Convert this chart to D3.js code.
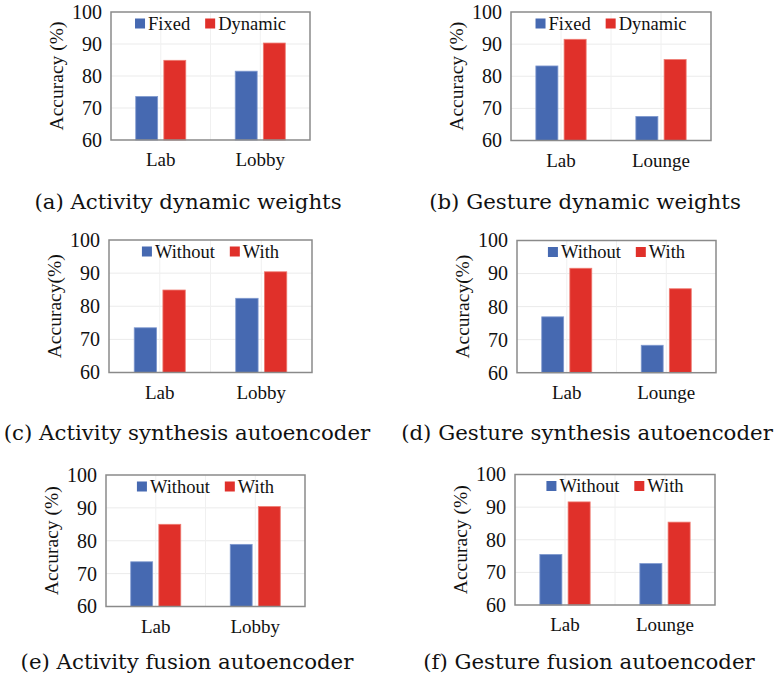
<!DOCTYPE html>
<html lang="en">
<head>
<meta charset="UTF-8">
<script src="https://cdn.jsdelivr.net/npm/d3@7"></script>
<title>Accuracy bars</title>
<style>
  body { margin: 0; background: #fff; }
  .tick-lbl { font-family: "Liberation Serif", "Times New Roman", serif; fill: #111; }
  .cap { font-family: "DejaVu Serif", serif; fill: #111; }
</style>
</head>
<body>
<svg id="fig" width="777" height="680"></svg>
<script>
// ---- data ----
var activityPlaces = ["Lab", "Lobby"];
var gesturePlaces = ["Lab", "Lounge"];
var yTicks = [60, 70, 80, 90, 100];

var weightSeries = ["Fixed", "Dynamic"];
var aeSeries = ["Without", "With"];

var actWeightsFixed = [73.6, 81.5];
var actWeightsDynamic = [84.9, 90.3];
var gesWeightsFixed = [83.2, 67.5];
var gesWeightsDynamic = [91.5, 85.2];

var actSynthWithout = [73.5, 82.4];
var actSynthWith = [84.9, 90.4];
var gesSynthWithout = [76.9, 68.3];
var gesSynthWith = [91.6, 85.4];

var actFusionWithout = [73.6, 78.9];
var actFusionWith = [85.0, 90.4];
var gesFusionWithout = [75.5, 72.7];
var gesFusionWith = [91.6, 85.4];

var captions = [
  "(a) Activity dynamic weights",
  "(b) Gesture dynamic weights",
  "(c) Activity synthesis autoencoder",
  "(d) Gesture synthesis autoencoder",
  "(e) Activity fusion autoencoder",
  "(f) Gesture fusion autoencoder"
];
var yTitles = ["Accuracy (%)", "Accuracy (%)", "Accuracy(%)", "Accuracy(%)", "Accuracy (%)", "Accuracy (%)"];

var colors = ["#4669b1", "#e0302a"];

// panel boxes (plot area) + caption position
var panels = [
  { box: [111, 12, 310, 140],   cap: [188, 209], cats: activityPlaces, series: weightSeries, vals: [actWeightsFixed, actWeightsDynamic] },
  { box: [511, 12, 711, 140.5], cap: [585, 209], cats: gesturePlaces, series: weightSeries, vals: [gesWeightsFixed, gesWeightsDynamic] },
  { box: [109, 240, 312, 372.5], cap: [187, 440], cats: activityPlaces, series: aeSeries, vals: [actSynthWithout, actSynthWith] },
  { box: [517, 240.5, 716, 372.7], cap: [587, 440], cats: gesturePlaces, series: aeSeries, vals: [gesSynthWithout, gesSynthWith] },
  { box: [106, 475, 305, 606.5], cap: [187, 669], cats: activityPlaces, series: aeSeries, vals: [actFusionWithout, actFusionWith] },
  { box: [515, 474.5, 715, 605], cap: [589, 669], cats: gesturePlaces, series: aeSeries, vals: [gesFusionWithout, gesFusionWith] }
];

var svg = d3.select("#fig");
var serif = "Liberation Serif, Times New Roman, serif";

panels.forEach(function(p, pi) {
  var x0 = p.box[0], y0 = p.box[1], x1 = p.box[2], y1 = p.box[3];
  var g = svg.append("g");

  var y = d3.scaleLinear().domain([60, 100]).range([y1, y0]);
  var xc = d3.scaleBand().domain(p.cats).range([x0, x1]);
  var xs = d3.scaleBand().domain(p.series).range([0, xc.bandwidth()])
    .paddingInner(0.22).paddingOuter(0.88);

  // grid
  g.selectAll(".hg").data(yTicks.slice(1, -1)).enter().append("line")
    .attr("x1", x0).attr("x2", x1)
    .attr("y1", function(d) { return y(d); }).attr("y2", function(d) { return y(d); })
    .attr("stroke", "#ebebeb").attr("stroke-width", 1);
  var vlines = [];
  p.cats.forEach(function(c, i) {
    vlines.push(xc(c) + xc.bandwidth() / 2);
    if (i > 0) vlines.push(xc(c));
  });
  g.selectAll(".vg").data(vlines).enter().append("line")
    .attr("x1", function(d) { return d; }).attr("x2", function(d) { return d; })
    .attr("y1", y0).attr("y2", y1)
    .attr("stroke", "#f0f0f0").attr("stroke-width", 1);

  // bars
  p.series.forEach(function(s, si) {
    g.selectAll(".bar" + si).data(p.vals[si]).enter().append("rect")
      .attr("x", function(d, i) { return xc(p.cats[i]) + xs(s); })
      .attr("width", xs.bandwidth())
      .attr("y", function(d) { return y(d); })
      .attr("height", function(d) { return y(60) - y(d); })
      .attr("fill", colors[si])
      .attr("stroke", si === 0 ? "#7f99cf" : "#ee7a70")
      .attr("stroke-width", 0.8);
  });

  // frame
  g.append("rect").attr("x", x0).attr("y", y0)
    .attr("width", x1 - x0).attr("height", y1 - y0)
    .attr("fill", "none").attr("stroke", "#8a8a8a").attr("stroke-width", 1.5);

  // y axis
  var yAxis = d3.axisLeft(y).tickValues(yTicks).tickSize(0).tickPadding(9);
  var ya = g.append("g").attr("transform", "translate(" + x0 + ",0)").call(yAxis)
    .attr("font-family", serif).attr("font-size", 20);
  ya.select(".domain").remove();
  ya.selectAll("text").attr("fill", "#111");

  // x labels
  var xAxis = d3.axisBottom(xc).tickSize(0).tickPadding(13);
  var xa = g.append("g").attr("transform", "translate(0," + y1 + ")").call(xAxis)
    .attr("font-family", serif).attr("font-size", 19);
  xa.select(".domain").remove();
  xa.selectAll("text").attr("fill", "#111");

  // y title
  g.append("text").attr("class", "tick-lbl")
    .attr("transform", "translate(" + (x0 - 55) + "," + ((y0 + y1) / 2) + ") rotate(-90)")
    .attr("text-anchor", "middle").attr("dy", "0.35em")
    .attr("font-size", 19.5).text(yTitles[pi]);

  // legend
  var lg = g.append("g");
  var cx = 0;
  p.series.forEach(function(s, si) {
    lg.append("rect").attr("x", cx).attr("y", -5).attr("width", 10).attr("height", 10)
      .attr("fill", colors[si]);
    var t = lg.append("text").attr("class", "tick-lbl").attr("x", cx + 13).attr("y", 0)
      .attr("dy", "0.35em").attr("font-size", 18.5).text(s);
    cx += 13 + t.node().getComputedTextLength() + 15;
  });
  var lw = cx - 15;
  lg.attr("transform", "translate(" + ((x0 + x1) / 2 - lw / 2) + "," + (y0 + 11.5) + ")");

  // caption
  svg.append("text").attr("class", "cap")
    .attr("x", p.cap[0]).attr("y", p.cap[1])
    .attr("text-anchor", "middle").attr("font-size", 21.3)
    .text(captions[pi]);
});
</script>
</body>
</html>
